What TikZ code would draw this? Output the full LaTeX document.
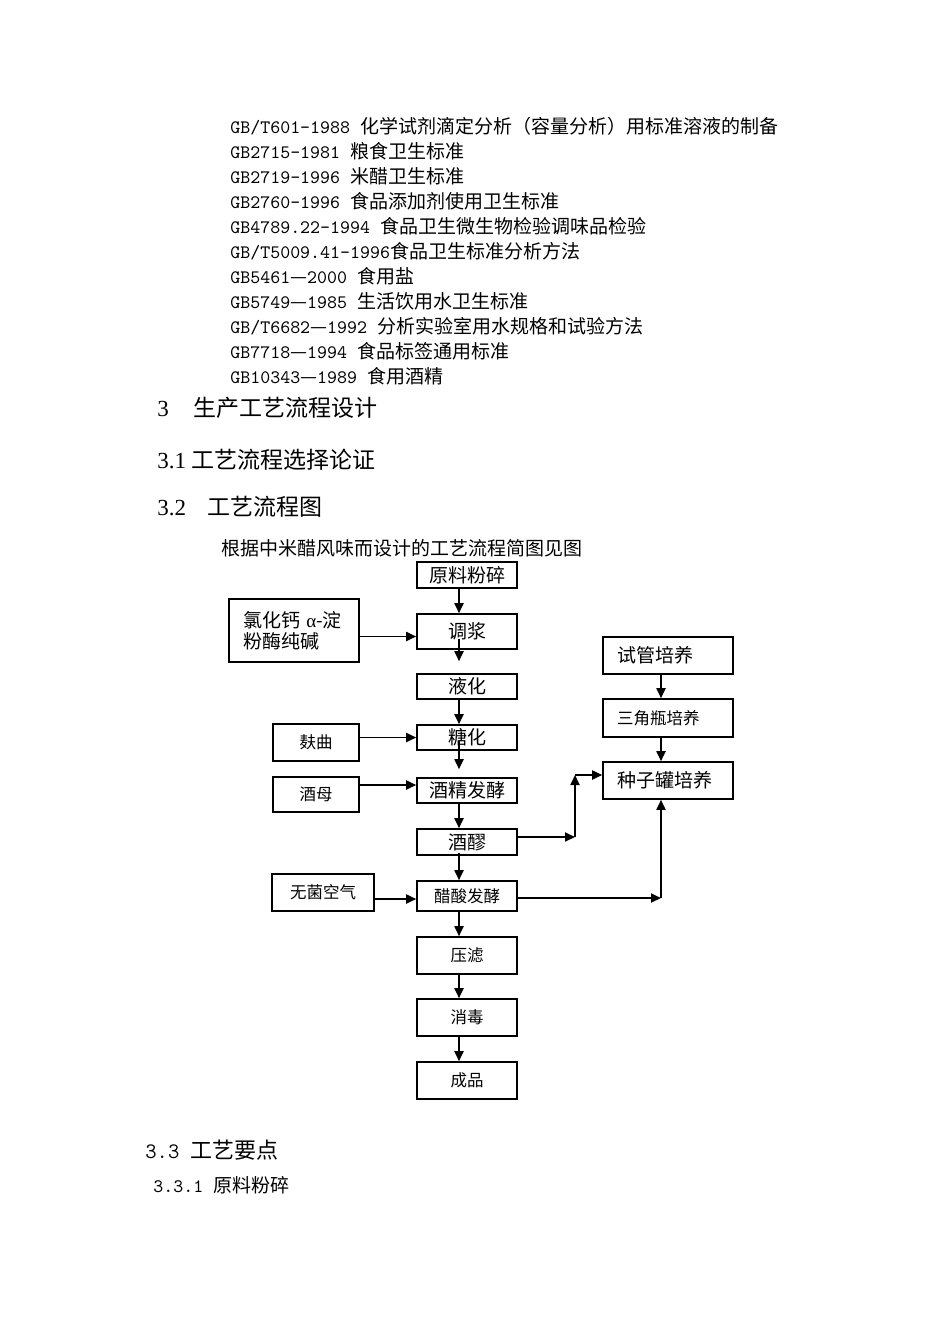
\documentclass[tikz,border=0pt]{standalone}
\usepackage{fontspec}
\setmainfont{Liberation Serif}
\newfontfamily\cjk{Noto Sans CJK SC}
\newcommand\gbmono{\ttfamily}
\usetikzlibrary{arrows.meta}

\begin{document}
\begin{tikzpicture}[x=0.5pt,y=-0.5pt,
    box/.style={draw,line width=0.8pt,inner xsep=0pt,inner ysep=0.5pt,
      font=\cjk\fontsize{9.5}{10.5}\selectfont},
    small/.style={font=\cjk\fontsize{8.25}{10}\selectfont},
    leftbox/.style={box,inner xsep=7pt,minimum width=65pt,text width=51pt,align=left}]

    \useasboundingbox (0,0) rectangle (950,1344);

    % Text
    \begin{scope}[every node/.style={anchor=west,inner sep=0pt,font=\fontsize{9.5}{11}\selectfont}]
      \node (t01) at (230,126) {{\gbmono GB/T601-1988 }{\cjk 化学试剂滴定分析（容量分析）用标准溶液的制备}};
      \node (t02) at (230,151) {{\gbmono GB2715-1981 }{\cjk 粮食卫生标准}};
      \node (t03) at (230,176) {{\gbmono GB2719-1996 }{\cjk 米醋卫生标准}};
      \node (t04) at (230,201) {{\gbmono GB2760-1996 }{\cjk 食品添加剂使用卫生标准}};
      \node (t05) at (230,226) {{\gbmono GB4789.22-1994 }{\cjk 食品卫生微生物检验调味品检验}};
      \node (t06) at (230,251) {{\gbmono GB/T5009.41-1996}{\cjk 食品卫生标准分析方法}};
      \node (t07) at (230,276) {{\gbmono GB5461}{\cjk —}{\gbmono 2000 }{\cjk 食用盐}};
      \node (t08) at (230,301) {{\gbmono GB5749}{\cjk —}{\gbmono 1985 }{\cjk 生活饮用水卫生标准}};
      \node (t09) at (230,326) {{\gbmono GB/T6682}{\cjk —}{\gbmono 1992 }{\cjk 分析实验室用水规格和试验方法}};
      \node (t10) at (230,351) {{\gbmono GB7718}{\cjk —}{\gbmono 1994 }{\cjk 食品标签通用标准}};
      \node (t11) at (230,376) {{\gbmono GB10343}{\cjk —}{\gbmono 1989 }{\cjk 食用酒精}};

      \node[font=\fontsize{11.5}{13}\selectfont] (h1) at (157,408) {3\hspace{12.25pt}{\cjk 生产工艺流程设计}};
      \node[font=\fontsize{11.5}{13}\selectfont] (h2) at (157,460) {3.1 {\cjk 工艺流程选择论证}};
      \node[font=\fontsize{11.5}{13}\selectfont] (h3) at (157,507) {3.2\hspace{10.5pt}{\cjk 工艺流程图}};
      \node (t12) at (221,548) {\cjk 根据中米醋风味而设计的工艺流程简图见图};

      \node[font=\fontsize{11}{13}\selectfont] (h4) at (145,1150) {{\gbmono 3.3 }{\cjk 工艺要点}};
      \node (h5) at (153,1185) {{\gbmono 3.3.1 }{\cjk 原料粉碎}};
    \end{scope}

    % Nodes
    \begin{scope}[every node/.style={box,minimum width=50pt}]
      \node[minimum height=13pt] (01) at (467,575) {原料粉碎};
      \node[minimum height=17.5pt] (02) at (467,631.5) {调浆};
      \node[minimum height=12.5pt] (03) at (467,686.5) {液化};
      \node[minimum height=12.5pt] (04) at (467,737.5) {糖化};
      \node[minimum height=12.5pt] (05) at (467,790.5) {酒精发酵};
      \node[minimum height=13pt] (06) at (467,842) {酒醪};
      \node[small,minimum height=15pt] (07) at (467,896) {醋酸发酵};
      \node[small,minimum height=18.5pt] (08) at (467,955.5) {压滤};
      \node[small,minimum height=18.5pt] (09) at (467,1017.5) {消毒};
      \node[small,minimum height=18.5pt] (10) at (467,1080.5) {成品};
    \end{scope}

    \node[leftbox,minimum height=31.5pt] (11) at (294,630.5) {氯化钙 {\rmfamily α}-淀\\粉酶纯碱};
    \node[box,small,minimum width=43pt,minimum height=18.5pt] (12) at (316,742.5) {麸曲};
    \node[box,small,minimum width=43pt,minimum height=17.5pt] (13) at (316,794.5) {酒母};
    \node[box,small,minimum width=51pt,minimum height=18.5pt] (14) at (323,892.5) {无菌空气};

    \node[leftbox,minimum height=18.5pt] (21) at (668,655.5) {试管培养};
    \node[leftbox,small,minimum height=19pt] (22) at (668,718) {三角瓶培养};
    \node[leftbox,minimum height=18.5pt] (23) at (668,780.5) {种子罐培养};

    \coordinate (a1) at ([yshift=-2.5pt]02.west);
    \coordinate (a2) at ([yshift=2.75pt]05.west);
    \coordinate (a3) at ([yshift=-1.5pt]07.west);
    \coordinate (k1) at (575,837);
    \coordinate (k2) at (575,775);
    \coordinate (k3) at (661,898);

    % Edges
    \begin{scope}[every edge/.style={draw,line width=0.9pt,-{Triangle[length=5pt,width=4.5pt]}}]
      \path ([xshift=-4pt]01.south) edge ([xshift=-4pt]02.north);
      \path ([xshift=-4pt]02.south) edge[shorten <=-5.5pt,shorten >=6pt] ([xshift=-4pt]03.north);
      \path ([xshift=-4pt]03.south) edge ([xshift=-4pt]04.north);
      \path ([xshift=-4pt]04.south) edge[shorten <=-5pt,shorten >=4pt] ([xshift=-4pt]05.north);
      \path ([xshift=-4pt]05.south) edge ([xshift=-4pt]06.north);
      \path ([xshift=-4pt]06.south) edge[shorten <=-1.5pt] ([xshift=-4pt]07.north);
      \path ([xshift=-4pt]07.south) edge ([xshift=-4pt]08.north);
      \path ([xshift=-4pt]08.south) edge ([xshift=-4pt]09.north);
      \path ([xshift=-4pt]09.south) edge ([xshift=-4pt]10.north);

      \path (11.east |- a1) edge (a1);
      \path (12.east |- 04.west) edge (04.west);
      \path (13.east |- a2) edge (a2);
      \path (14.east |- a3) edge (a3);

      \path (k3 |- 21.south) edge (k3 |- 22.north);
      \path (k3 |- 22.south) edge (k3 |- 23.north);

      \path (06.east |- k1) edge (k1);
      \path (k1) edge (k2);
      \path (k2) edge (k2 -| 23.west);
      \path (07.east |- k3) edge (k3);
      \path (k3) edge (k3 |- 23.south);
    \end{scope}

\end{tikzpicture}
\end{document}
